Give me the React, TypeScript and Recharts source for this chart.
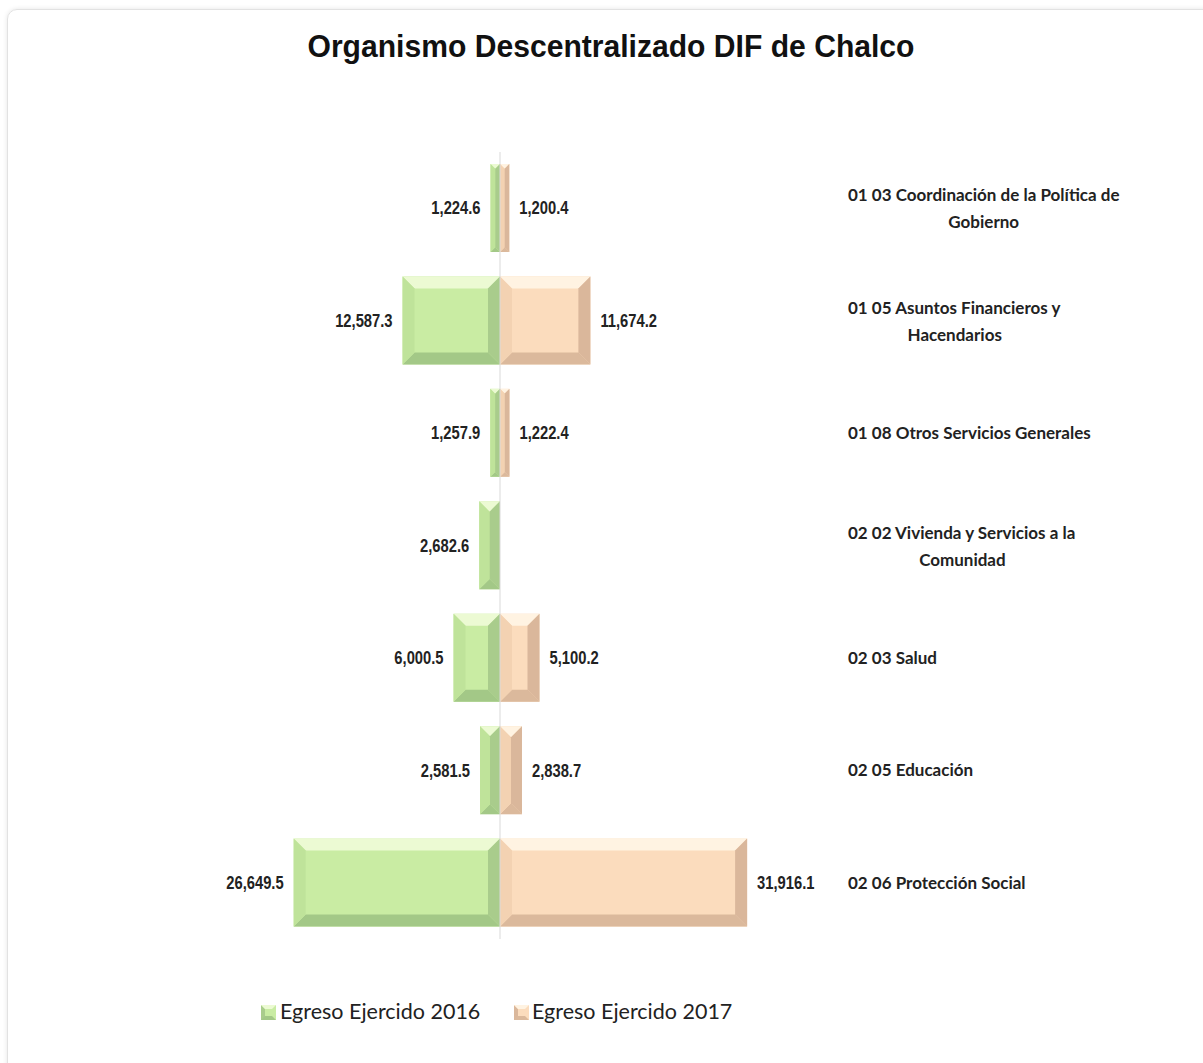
import React from "react";
import { BarChart, Bar, XAxis, YAxis, ReferenceLine, LabelList } from "recharts";

const categoryLines: string[][] = [
  ["01 03 Coordinación de la Política de", "Gobierno"],
  ["01 05 Asuntos Financieros y", "Hacendarios"],
  ["01 08 Otros Servicios Generales"],
  ["02 02 Vivienda y Servicios a la", "Comunidad"],
  ["02 03 Salud"],
  ["02 05 Educación"],
  ["02 06 Protección Social"],
];
const egreso2016: number[] = [1224.6, 12587.3, 1257.9, 2682.6, 6000.5, 2581.5, 26649.5];
const egreso2017: (number | null)[] = [1200.4, 11674.2, 1222.4, null, 5100.2, 2838.7, 31916.1];
const seriesNames = ["Egreso Ejercido 2016", "Egreso Ejercido 2017"];
const title = "Organismo Descentralizado DIF de Chalco";

const data = categoryLines.map((lines, i) => ({
  name: lines.join(" "),
  lines,
  v2016: -egreso2016[i],
  v2017: egreso2017[i],
}));

const GREEN = { face: "#c9eca3", top: "#ecfad3", bottom: "#a3c887", left: "#bfe39a", right: "#a9cc8c" };
const PEACH = { face: "#fbdcbd", top: "#fff3e2", bottom: "#dbb99c", left: "#f3d2b2", right: "#dab79b" };

const ARIAL = '"Liberation Sans", Arial, sans-serif';
const LABEL_FONT = 'Lato, "Open Sans", sans-serif';
const CAT_SIZE = 17;

const fmt = (v: number) =>
  Math.abs(v).toLocaleString("en-US", { minimumFractionDigits: 1, maximumFractionDigits: 1 });

let ctx: CanvasRenderingContext2D | null = null;
function measure(text: string, font: string) {
  if (!ctx) ctx = document.createElement("canvas").getContext("2d");
  if (!ctx) return text.length * 7.5;
  ctx.font = font;
  return ctx.measureText(text).width;
}

function makeBevel(pal: typeof GREEN) {
  return (props: any) => {
    const { x, y, width, height } = props;
    if (width == null || height == null || !isFinite(width) || Math.abs(width) < 0.5) return <g />;
    const x0 = Math.min(x, x + width);
    const w = Math.abs(width);
    const h = height;
    const b = Math.min(12, w / 2, h / 2);
    const p = (pts: number[][]) => pts.map((q) => q.join(",")).join(" ");
    return (
      <g>
        <rect x={x0} y={y} width={w} height={h} fill={pal.face} />
        <polygon points={p([[x0, y], [x0 + w, y], [x0 + w - b, y + b], [x0 + b, y + b]])} fill={pal.top} />
        <polygon points={p([[x0, y + h], [x0 + w, y + h], [x0 + w - b, y + h - b], [x0 + b, y + h - b]])} fill={pal.bottom} />
        <polygon points={p([[x0, y], [x0 + b, y + b], [x0 + b, y + h - b], [x0, y + h]])} fill={pal.left} />
        <polygon points={p([[x0 + w, y], [x0 + w - b, y + b], [x0 + w - b, y + h - b], [x0 + w, y + h]])} fill={pal.right} />
      </g>
    );
  };
}

const valueLabel = (side: "left" | "right") => (props: any) => {
  const { x, y, width, height, value } = props;
  if (value == null || value === 0) return null;
  const left = Math.min(x, x + width);
  const right = Math.max(x, x + width);
  const tx = side === "left" ? left - 10 : right + 10;
  return (
    <text
      x={0}
      y={0}
      transform={`translate(${tx},${y + height / 2}) scale(0.82,1)`}
      dy="0.36em"
      textAnchor={side === "left" ? "end" : "start"}
      fontFamily={ARIAL}
      fontWeight="bold"
      fontSize={18}
      fill="#222"
    >
      {fmt(value)}
    </text>
  );
};

const CategoryTick = (props: any) => {
  const { x, y, index } = props;
  const lines = categoryLines[index] || [];
  const font = `bold ${CAT_SIZE}px Lato`;
  const w1 = measure(lines[0] || "", font);
  const common = { fontFamily: LABEL_FONT, fontWeight: "bold", fontSize: CAT_SIZE, fill: "#222" } as any;
  if (lines.length === 1) {
    return (
      <text x={x} y={y} dy="0.36em" textAnchor="start" {...common}>
        {lines[0]}
      </text>
    );
  }
  return (
    <g>
      <text x={x} y={y - 13} dy="0.36em" textAnchor="start" {...common}>
        {lines[0]}
      </text>
      <text x={x + w1 / 2} y={y + 14} dy="0.36em" textAnchor="middle" {...common}>
        {lines[1]}
      </text>
    </g>
  );
};

const LegendIcon = ({ pal, x, y }: { pal: typeof GREEN; x: number; y: number }) => (
  <g transform={`translate(${x},${y})`}>
    <rect x={0} y={0} width={15} height={15} fill={pal.face} />
    <polygon points="0,0 4,4 4,15 0,15" fill={pal.right} />
    <polygon points="0,15 15,15 11,11 4,11" fill={pal.bottom} />
    <polygon points="0,0 15,0 11,4 4,4" fill={pal.top} />
  </g>
);

export default function App() {
  return (
    <div style={{ position: "absolute", left: 0, top: 0, width: 1203, height: 1063, overflow: "hidden", background: "#fff" }}>
      <div
        style={{
          position: "absolute",
          left: 7,
          top: 9,
          width: 1230,
          height: 1070,
          border: "1px solid #e2e2e2",
          borderRadius: 10,
          boxShadow: "0 0 5px rgba(0,0,0,0.10)",
          boxSizing: "border-box",
        }}
      />
      <div style={{ position: "absolute", left: 0, top: 0 }}>
        <BarChart
          width={1203}
          height={1063}
          data={data}
          layout="vertical"
          stackOffset="sign"
          margin={{ top: 152, bottom: 124, left: 229, right: 132 }}
        >
          <XAxis type="number" domain={[-35000, 35000]} hide allowDataOverflow />
          <YAxis
            type="category"
            dataKey="name"
            orientation="right"
            width={300}
            axisLine={false}
            tickLine={false}
            tickSize={0}
            tickMargin={77}
            interval={0}
            tick={<CategoryTick />}
          />
          <ReferenceLine x={0} stroke="#d9d9d9" strokeWidth={1} />
          <Bar dataKey="v2016" stackId="a" barSize={88} isAnimationActive={false} shape={makeBevel(GREEN)}>
            <LabelList dataKey="v2016" content={valueLabel("left")} />
          </Bar>
          <Bar dataKey="v2017" stackId="a" barSize={88} isAnimationActive={false} shape={makeBevel(PEACH)}>
            <LabelList dataKey="v2017" content={valueLabel("right")} />
          </Bar>
        </BarChart>
      </div>
      <svg width={1203} height={1063} style={{ position: "absolute", left: 0, top: 0, pointerEvents: "none" }}>
        <text
          x={611}
          y={57}
          textAnchor="middle"
          fontFamily={ARIAL}
          fontWeight="bold"
          fontSize={31}
          fill="#111"
          textLength={607}
          lengthAdjust="spacingAndGlyphs"
        >
          {title}
        </text>
        <LegendIcon pal={GREEN} x={261} y={1005} />
        <text x={280} y={1019} fontFamily={LABEL_FONT} fontSize={21.5} fill="#222">
          {seriesNames[0]}
        </text>
        <LegendIcon pal={PEACH} x={514} y={1005} />
        <text x={532} y={1019} fontFamily={LABEL_FONT} fontSize={21.5} fill="#222">
          {seriesNames[1]}
        </text>
      </svg>
    </div>
  );
}
